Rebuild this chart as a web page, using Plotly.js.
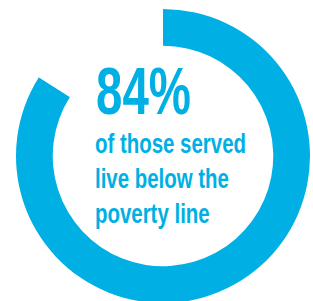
<!DOCTYPE html>
<html>
<head>
<meta charset="utf-8">
<script src="https://cdn.plot.ly/plotly-3.0.1.min.js"></script>
<style>
html,body{margin:0;padding:0;overflow:hidden;background:#fff;width:313px;height:301px;}
#chart{position:absolute;left:0;top:0;width:313px;height:312px;}
</style>
</head>
<body>
<div id="chart"></div>
<script>
const labels = ['Live below the poverty line', 'Other'];
const values = [84, 16];
const colors = ['#00B0E4', '#FFFFFF'];
const headline = '84%';
const caption = ['of those served', 'live below the', 'poverty line'];

const W = 313, H = 312;
const px = x => x / W;
const py = y => 1 - y / H;

const trace = {
  type: 'pie',
  labels: labels,
  values: values,
  hole: 0.75,
  sort: false,
  direction: 'clockwise',
  rotation: 0,
  textinfo: 'none',
  hoverinfo: 'label+percent',
  marker: {colors: colors, line: {width: 0}},
  domain: {x: [px(16), px(310)], y: [1 - 303 / H, 1 - 9 / H]},
  showlegend: false
};

const font = 'Liberation Sans, Arial, sans-serif';
const layout = {
  width: W, height: H,
  margin: {l: 0, r: 0, t: 0, b: 0},
  paper_bgcolor: '#fff',
  showlegend: false,
  annotations: [
    {text: '<b>' + headline + '</b>', xref: 'paper', yref: 'paper', x: px(94), y: py(91),
     xanchor: 'left', yanchor: 'middle', showarrow: false,
     font: {family: font, size: 66, color: '#00B0E4'}},
    {text: caption.map(s => '<b>' + s + '</b>').join('<br>'), xref: 'paper', yref: 'paper',
     x: px(93), y: py(179), xanchor: 'left', yanchor: 'middle', align: 'left', showarrow: false,
     font: {family: font, size: 27, color: '#00B0E4'}}
  ]
};

// target rendered widths of the condensed lettering (px)
const targetWidths = [95, 151];

Plotly.newPlot('chart', [trace], layout, {displayModeBar: false, staticPlot: true}).then(() => {
  const texts = document.querySelectorAll('#chart .annotation-text');
  texts.forEach((t, i) => {
    const bb = t.getBBox();
    const s = targetWidths[i] / bb.width;
    const x0 = bb.x;
    t.setAttribute('transform', `translate(${x0},0) scale(${s},1) translate(${-x0},0)`);
  });
});
</script>
</body>
</html>
